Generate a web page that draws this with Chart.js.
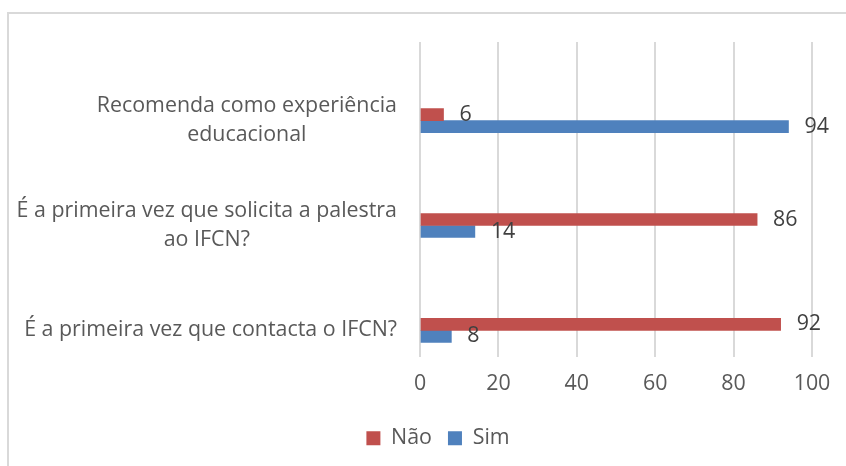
<!DOCTYPE html>
<html lang="pt">
<head>
<meta charset="utf-8">
<title>Inquérito IFCN</title>
<script src="https://cdn.jsdelivr.net/npm/chart.js@4/dist/chart.umd.min.js"></script>
<style>
  html, body { margin: 0; padding: 0; background: #fff; }
  #wrap { width: 846px; height: 466px; }
</style>
</head>
<body>
<div id="wrap"><canvas id="grafico" width="846" height="466"></canvas></div>
<script>
// Dados do gráfico
const categorias = [
  ['Recomenda como experiência', 'educacional'],
  ['É a primeira vez que solicita a palestra', 'ao IFCN?'],
  ['É a primeira vez que contacta o IFCN?']
];
const valoresNao = [6, 86, 92];
const valoresSim = [94, 14, 8];
const ticksX = [0, 20, 40, 60, 80, 100];

const FONTE = "'Open Sans', 'Noto Sans', sans-serif";
const TAM = 21.4;

// Moldura cinzenta (só topo e esquerda ficam visíveis)
const moldura = {
  id: 'moldura',
  beforeDraw(chart) {
    const ctx = chart.ctx;
    ctx.save();
    ctx.strokeStyle = '#d9d9d9';
    ctx.lineWidth = 2;
    ctx.beginPath();
    ctx.moveTo(846, 13);
    ctx.lineTo(8, 13);
    ctx.lineTo(8, 466);
    ctx.stroke();
    ctx.restore();
  }
};

// Rótulos das categorias: linhas centradas entre si, bloco alinhado à direita
const rotulosCategorias = {
  id: 'rotulosCategorias',
  afterDraw(chart) {
    const ctx = chart.ctx;
    const y = chart.scales.y;
    const direita = chart.chartArea.left - 23;
    const alturaLinha = 29;
    ctx.save();
    ctx.font = TAM + 'px ' + FONTE;
    ctx.fillStyle = '#595959';
    ctx.textAlign = 'center';
    ctx.textBaseline = 'middle';
    categorias.forEach(function (linhas, i) {
      const largura = Math.max.apply(null, linhas.map(l => ctx.measureText(l).width));
      const cx = direita - largura / 2;
      const cy = y.getPixelForValue(i) - (linhas.length - 1) * alturaLinha / 2;
      linhas.forEach(function (l, k) {
        ctx.fillText(l, cx, cy + k * alturaLinha);
      });
    });
    ctx.restore();
  }
};

// Valores à frente de cada barra
const rotulosValores = {
  id: 'rotulosValores',
  afterDatasetsDraw(chart) {
    const ctx = chart.ctx;
    ctx.save();
    ctx.font = TAM + 'px ' + FONTE;
    ctx.fillStyle = '#404040';
    ctx.textAlign = 'left';
    ctx.textBaseline = 'middle';
    chart.data.datasets.forEach(function (ds, di) {
      chart.getDatasetMeta(di).data.forEach(function (barra, i) {
        ctx.fillText(String(ds.data[i].x), barra.x + 16, barra.y);
      });
    });
    ctx.restore();
  }
};

new Chart(document.getElementById('grafico'), {
  type: 'bar',
  data: {
    datasets: [{
      label: 'Não',
      data: valoresNao.map((v, i) => ({ x: v, y: i })),
      backgroundColor: '#C0504D',
      barThickness: 12
    }, {
      label: 'Sim',
      data: valoresSim.map((v, i) => ({ x: v, y: i })),
      backgroundColor: '#4F81BD',
      barThickness: 12
    }]
  },
  options: {
    indexAxis: 'y',
    responsive: false,
    animation: false,
    layout: {
      padding: { left: 64, right: 34, top: 42, bottom: 7 }
    },
    scales: {
      x: {
        min: 0,
        max: 100,
        afterBuildTicks(scale) {
          scale.ticks = ticksX.map(v => ({ value: v }));
        },
        afterFit(scale) {
          scale.height = 55;
        },
        grid: { color: '#d9d9d9', lineWidth: 2, drawTicks: false },
        border: { display: false },
        ticks: {
          padding: 14,
          color: '#595959',
          font: { family: FONTE, size: TAM }
        }
      },
      y: {
        type: 'linear',
        bounds: 'data',
        offset: false,
        reverse: true,
        min: -0.75,
        max: 2.25,
        afterFit(scale) {
          scale.width = 420 - 64;
        },
        grid: { display: false },
        border: { display: false },
        ticks: { display: false }
      }
    },
    plugins: {
      legend: {
        position: 'bottom',
        labels: {
          boxWidth: 14,
          boxHeight: 14,
          padding: 16,
          color: '#595959',
          font: { family: FONTE, size: TAM }
        }
      },
      tooltip: { enabled: false }
    }
  },
  plugins: [moldura, rotulosCategorias, rotulosValores]
});
</script>
</body>
</html>
